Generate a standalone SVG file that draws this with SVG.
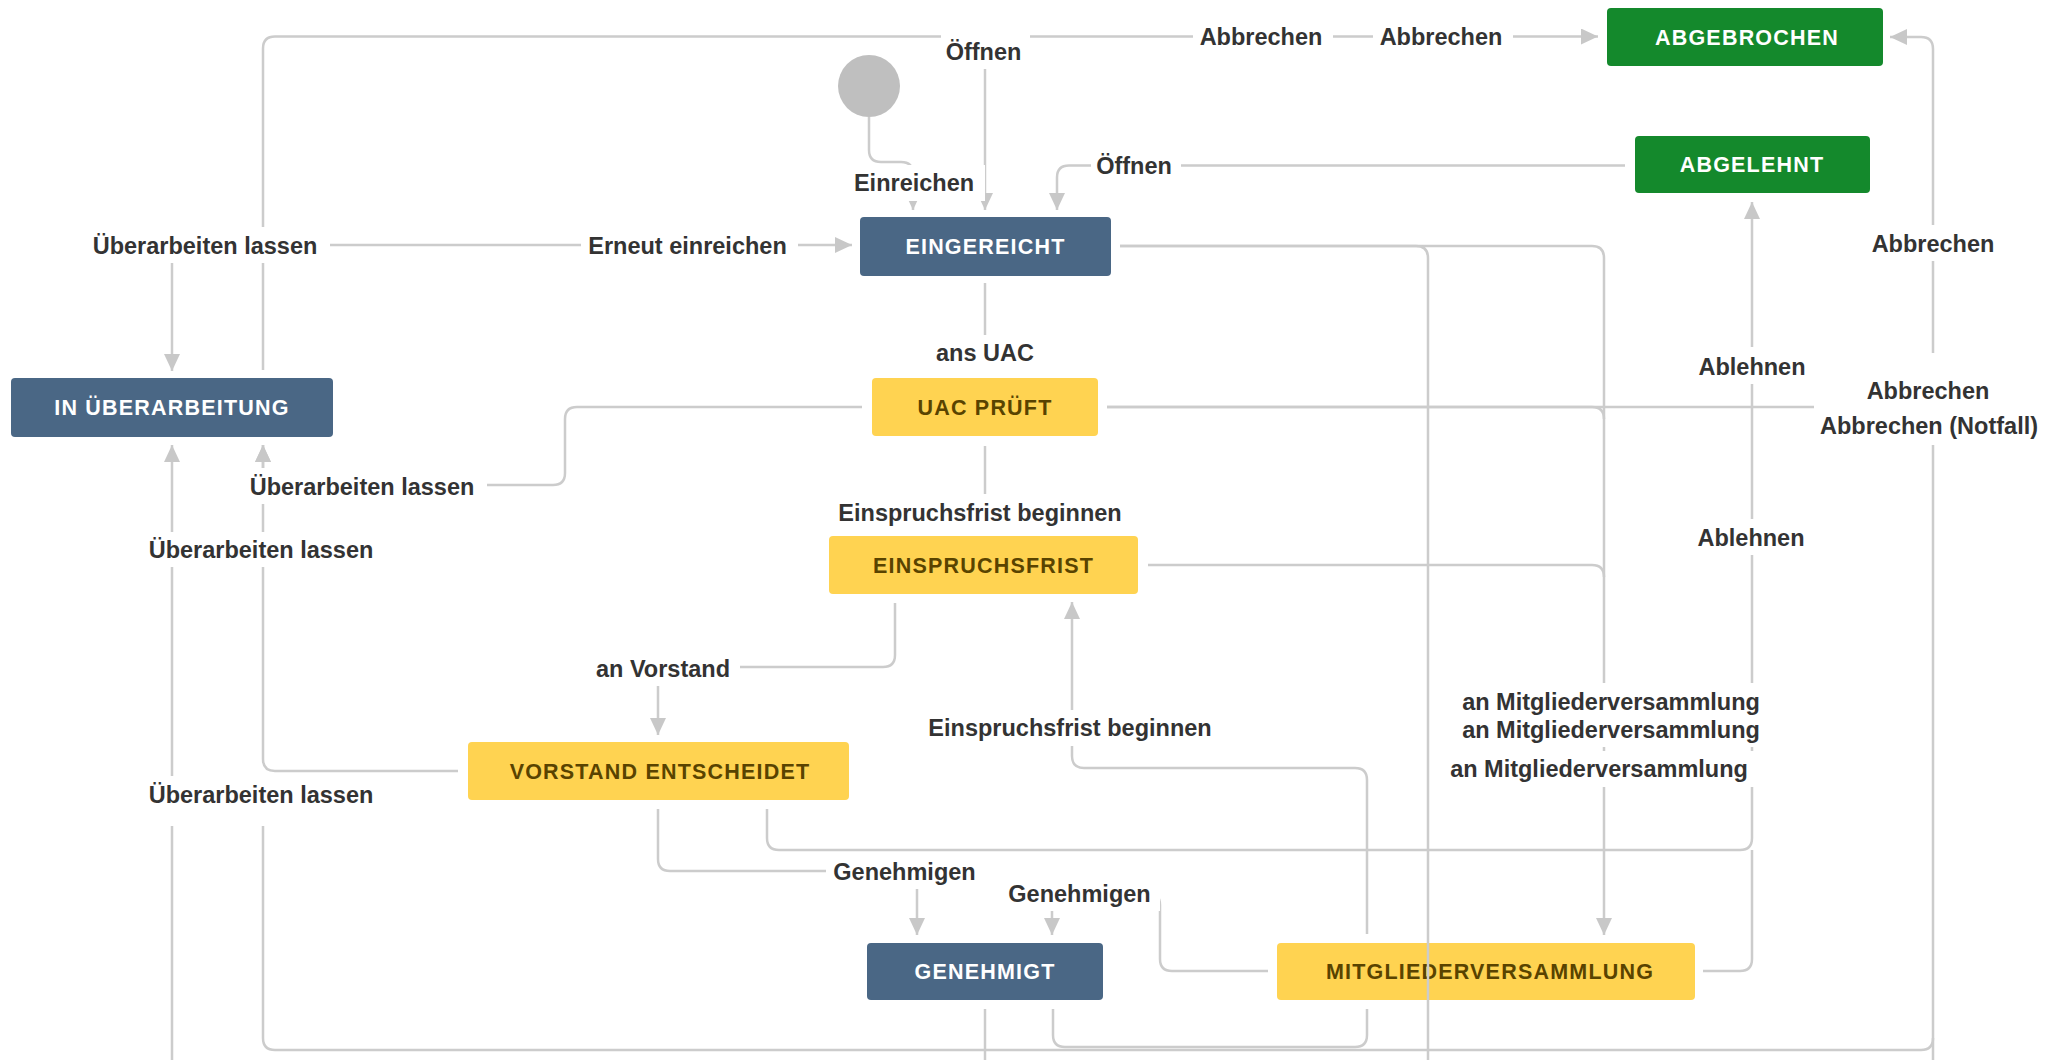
<svg xmlns="http://www.w3.org/2000/svg" width="2057" height="1060" viewBox="0 0 2057 1060">
<defs>
<style>
.node rect{rx:4;ry:4}
.blue rect{fill:#4a6785}
.yellow rect{fill:#ffd351}
.green rect{fill:#14892c}
.node text{font-family:"Liberation Sans",Arial,sans-serif;font-weight:bold;font-size:21.5px;letter-spacing:1.2px;text-anchor:middle}
.blue text,.green text{fill:#ffffff}
.yellow text{fill:#594300}
.edge{fill:none;stroke:#cccccc;stroke-width:2.5}
.lblbg rect{fill:#ffffff}
.lbl text{font-family:"Liberation Sans",Arial,sans-serif;font-weight:bold;font-size:23.5px;fill:#333333;text-anchor:middle}
</style>
<marker id="arr" markerUnits="userSpaceOnUse" markerWidth="17" markerHeight="16" viewBox="0 0 17 16" refX="17" refY="8" orient="auto">
<path d="M0,0 L17,8 L0,16 z" fill="#c8c8c8"/>
</marker>
</defs>
<rect width="2057" height="1060" fill="#ffffff"/>

<g id="start"><circle cx="869" cy="86" r="31" fill="#bfbfbf"/></g>
<g id="in-ueberarbeitung" class="node blue"><rect x="11" y="378" width="322" height="59"/><text x="172" y="415">IN ÜBERARBEITUNG</text></g>
<g id="eingereicht" class="node blue"><rect x="860" y="217" width="251" height="59"/><text x="985.5" y="254">EINGEREICHT</text></g>
<g id="uac-prueft" class="node yellow"><rect x="872" y="378" width="226" height="58"/><text x="985" y="415">UAC PRÜFT</text></g>
<g id="einspruchsfrist" class="node yellow"><rect x="829" y="536" width="309" height="58"/><text x="983.5" y="573">EINSPRUCHSFRIST</text></g>
<g id="vorstand-entscheidet" class="node yellow"><rect x="468" y="742" width="381" height="58"/><text x="660" y="779">VORSTAND ENTSCHEIDET</text></g>
<g id="genehmigt" class="node blue"><rect x="867" y="943" width="236" height="57"/><text x="985" y="979">GENEHMIGT</text></g>
<g id="mitgliederversammlung" class="node yellow"><rect x="1277" y="943" width="418" height="57"/><text x="1490" y="979">MITGLIEDERVERSAMMLUNG</text></g>
<g id="abgebrochen" class="node green"><rect x="1607" y="8" width="276" height="58"/><text x="1747" y="45">ABGEBROCHEN</text></g>
<g id="abgelehnt" class="node green"><rect x="1635" y="136" width="235" height="57"/><text x="1752" y="172">ABGELEHNT</text></g>

<g id="connectors">
<path class="edge" d="M263 370 V48.5 Q263 36.5 275 36.5 H1598" marker-end="url(#arr)"/>
<path class="edge" d="M263 245 H852" marker-end="url(#arr)"/>
<path class="edge" d="M172 257 V371" marker-end="url(#arr)"/>
<path class="edge" d="M985 37 V210" marker-end="url(#arr)"/>
<path class="edge" d="M869 117 V150 Q869 162 881 162 H901 Q913 162 913 174 V210" marker-end="url(#arr)"/>
<path class="edge" d="M1625 165.5 H1069 Q1057 165.5 1057 177.5 V210" marker-end="url(#arr)"/>
<path class="edge" d="M985 283 V371" marker-end="url(#arr)"/>
<path class="edge" d="M1120 246 H1592 Q1604 246 1604 258 V935" marker-end="url(#arr)"/>
<path class="edge" d="M1120 246 H1416 Q1428 246 1428 258 V1060"/>
<path class="edge" d="M862 407 H577 Q565 407 565 419 V473 Q565 485 553 485 H275 Q263 485 263 473 V445" marker-end="url(#arr)"/>
<path class="edge" d="M1107 407 H1592 Q1604 407 1604 419"/>
<path class="edge" d="M1107 407 H1921 Q1933 407 1933 395 V49 Q1933 37 1921 37 H1890" marker-end="url(#arr)"/>
<path class="edge" d="M1933 395 V1060"/>
<path class="edge" d="M263 790 V1038 Q263 1050 275 1050 H1921 Q1933 1050 1933 1038"/>
<path class="edge" d="M985 446 V528" marker-end="url(#arr)"/>
<path class="edge" d="M1148 565 H1592 Q1604 565 1604 577"/>
<path class="edge" d="M895 603 V655 Q895 667 883 667 H670 Q658 667 658 679 V735" marker-end="url(#arr)"/>
<path class="edge" d="M458 771 H275 Q263 771 263 759 V445" marker-end="url(#arr)"/>
<path class="edge" d="M172 1060 V445" marker-end="url(#arr)"/>
<path class="edge" d="M658 809 V859 Q658 871 670 871 H905 Q917 871 917 883 V935" marker-end="url(#arr)"/>
<path class="edge" d="M767 809 V838 Q767 850 779 850 H1740 Q1752 850 1752 838 V202" marker-end="url(#arr)"/>
<path class="edge" d="M1703 971 H1740 Q1752 971 1752 959 V850"/>
<path class="edge" d="M1268 971 H1172 Q1160 971 1160 959 V905 Q1160 893 1148 893 H1064 Q1052 893 1052 905 V935" marker-end="url(#arr)"/>
<path class="edge" d="M1367 934 V780 Q1367 768 1355 768 H1084 Q1072 768 1072 756 V602" marker-end="url(#arr)"/>
<path class="edge" d="M1053 1009 V1035 Q1053 1047 1065 1047 H1355 Q1367 1047 1367 1035 V1009"/>
<path class="edge" d="M985 1009 V1060"/>

<g class="lblbg">
<rect x="941" y="33" width="89" height="36"/>
<rect x="1193" y="18.5" width="140" height="36"/>
<rect x="1373" y="18.5" width="140" height="36"/>
<rect x="1091" y="147.5" width="90" height="36"/>
<rect x="847" y="165" width="138" height="36"/>
<rect x="83" y="227" width="247" height="36"/>
<rect x="581" y="227" width="217" height="36"/>
<rect x="931" y="335" width="112" height="36"/>
<rect x="241" y="468" width="246" height="36"/>
<rect x="831" y="494" width="302" height="36"/>
<rect x="1692" y="347" width="123" height="37"/>
<rect x="1866" y="225" width="138" height="36"/>
<rect x="1814" y="353" width="234" height="92"/>
<rect x="1692" y="519" width="122" height="36"/>
<rect x="140" y="532" width="246" height="35"/>
<rect x="140" y="776" width="246" height="50"/>
<rect x="589" y="650" width="151" height="36"/>
<rect x="921" y="710" width="302" height="36"/>
<rect x="1451" y="683" width="324" height="64"/>
<rect x="1439" y="751" width="324" height="36"/>
<rect x="826" y="853" width="161" height="36"/>
<rect x="1001" y="875" width="159" height="36"/>
</g>
<g class="lbl">
<text x="983.5" y="59.5">Öffnen</text>
<text x="1261" y="45">Abbrechen</text>
<text x="1441" y="45">Abbrechen</text>
<text x="1134" y="174">Öffnen</text>
<text x="914" y="190.5">Einreichen</text>
<text x="205" y="253.5">Überarbeiten lassen</text>
<text x="687.5" y="253.5">Erneut einreichen</text>
<text x="985" y="361">ans UAC</text>
<text x="362" y="494.5">Überarbeiten lassen</text>
<text x="980" y="520.5">Einspruchsfrist beginnen</text>
<text x="1752" y="374.5">Ablehnen</text>
<text x="1933" y="251.5">Abbrechen</text>
<text x="1928" y="398.5">Abbrechen</text>
<text x="1929" y="433.5">Abbrechen (Notfall)</text>
<text x="1751" y="545.5">Ablehnen</text>
<text x="261" y="557.5">Überarbeiten lassen</text>
<text x="261" y="802.5">Überarbeiten lassen</text>
<text x="663" y="676.5">an Vorstand</text>
<text x="1070" y="735.5">Einspruchsfrist beginnen</text>
<text x="1611" y="709.5">an Mitgliederversammlung</text>
<text x="1611" y="737.5">an Mitgliederversammlung</text>
<text x="1599" y="776.5">an Mitgliederversammlung</text>
<text x="904.5" y="879.5">Genehmigen</text>
<text x="1079.5" y="901.5">Genehmigen</text>
</g>
</g>
</svg>
